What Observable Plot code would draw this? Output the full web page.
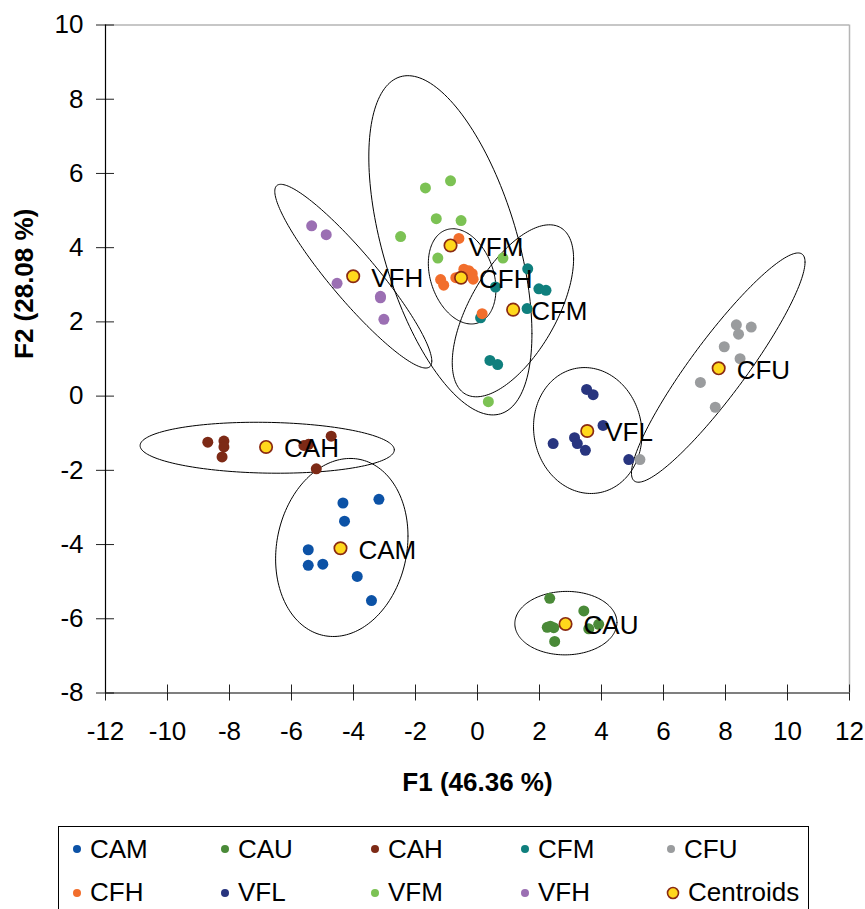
<!DOCTYPE html>
<html><head><meta charset="utf-8">
<script src="https://cdn.jsdelivr.net/npm/d3@7"></script>
<script src="https://cdn.jsdelivr.net/npm/@observablehq/plot@0.6"></script>
<style>
html,body{margin:0;padding:0;background:#fff;overflow:hidden;}
body{width:865px;height:909px;position:relative;font-family:"Liberation Sans",Arial,sans-serif;}
#chart{position:absolute;left:0;top:0;}
#legend{position:absolute;left:58px;top:826px;width:751px;height:120px;border:1.5px solid #000;box-sizing:border-box;background:#fff;}
.item{position:absolute;height:28px;display:flex;align-items:center;font-size:26px;color:#000;white-space:nowrap;}
.item svg{margin-right:8px;}
</style></head><body><div id="chart"></div><div id="legend"></div>
<script>
// ---- data ----
const groups = ["CAM","CAU","CAH","CFM","CFU","CFH","VFL","VFM","VFH"];
const colors = ["#0c52a6","#4a8a38","#7d2a16","#0f7f7d","#9a9c9e","#f26e2c","#28357f","#7cc254","#9b6fb3"];

const camX = [-4.34,-3.18,-4.29,-5.46,-5.46,-4.99,-3.88,-3.42];
const camY = [-2.88,-2.78,-3.37,-4.14,-4.56,-4.53,-4.86,-5.51];
const cauX = [2.33,3.43,2.25,2.46,2.35,3.91,3.59,2.49];
const cauY = [-5.45,-5.79,-6.23,-6.24,-6.20,-6.15,-6.27,-6.61];
const cahX = [-8.70,-8.18,-8.18,-8.24,-5.60,-5.45,-4.72,-5.20];
const cahY = [-1.24,-1.21,-1.37,-1.64,-1.33,-1.30,-1.08,-1.96];
const cfmX = [1.62,1.98,2.21,1.60,0.58,0.10,0.40,0.65];
const cfmY = [3.43,2.89,2.85,2.36,2.94,2.11,0.96,0.85];
const cfuX = [8.35,8.83,8.42,7.96,8.47,7.19,7.67,5.24];
const cfuY = [1.92,1.86,1.67,1.33,1.01,0.37,-0.30,-1.71];
const cfhX = [-0.60,-1.19,-1.09,-0.44,-0.28,-0.17,-0.14,-0.70,0.15];
const cfhY = [4.25,3.14,2.99,3.42,3.38,3.30,3.15,3.19,2.22];
const vflX = [3.52,3.73,4.05,3.13,3.22,2.44,3.48,4.88];
const vflY = [0.18,0.04,-0.79,-1.12,-1.28,-1.28,-1.46,-1.71];
const vfmX = [-1.68,-0.87,-1.33,-0.53,-2.48,-1.28,0.82,0.35];
const vfmY = [5.61,5.80,4.78,4.73,4.30,3.72,3.72,-0.15];
const vfhX = [-5.35,-4.88,-4.53,-3.13,-3.13,-3.02];
const vfhY = [4.59,4.35,3.04,2.69,2.65,2.07];

const centroidX = [-4.42,2.84,-6.82,1.15,7.78,-0.53,3.54,-0.87,-4.01];
const centroidY = [-4.10,-6.14,-1.37,2.33,0.75,3.19,-0.94,4.06,3.23];

const xTicks = [-12,-10,-8,-6,-4,-2,0,2,4,6,8,10,12];
const yTicks = [-8,-6,-4,-2,0,2,4,6,8,10];
const xTitle = "F1 (46.36 %)";
const yTitle = "F2 (28.08 %)";
const legendLabels = ["CAM","CAU","CAH","CFM","CFU","CFH","VFL","VFM","VFH","Centroids"];

// ---- build tables ----
const seriesX = [camX,cauX,cahX,cfmX,cfuX,cfhX,vflX,vfmX,vfhX];
const seriesY = [camY,cauY,cahY,cfmY,cfuY,cfhY,vflY,vfmY,vfhY];
const points = [];
groups.forEach((g,i)=>seriesX[i].forEach((x,j)=>points.push({g, x, y: seriesY[i][j]})));
const centroids = groups.map((g,i)=>({g, x: centroidX[i], y: centroidY[i]}));

// 95% confidence ellipses computed from each group's covariance
const k = Math.sqrt(5.991);
const ellipses = [];
groups.forEach((g,i)=>{
  const xs = seriesX[i], ys = seriesY[i], n = xs.length;
  const mx = d3.mean(xs), my = d3.mean(ys);
  let sxx=0, syy=0, sxy=0;
  for (let j=0;j<n;j++){const dx=xs[j]-mx, dy=ys[j]-my; sxx+=dx*dx; syy+=dy*dy; sxy+=dx*dy;}
  sxx/=(n-1); syy/=(n-1); sxy/=(n-1);
  const a = Math.sqrt(sxx), b = sxy/a, c = Math.sqrt(Math.max(syy - b*b, 0));
  for (let s=0;s<=180;s++){
    const t = s/180*2*Math.PI;
    ellipses.push({g, x: mx + k*a*Math.cos(t), y: my + k*(b*Math.cos(t) + c*Math.sin(t))});
  }
});

const xDomain = [xTicks[0], xTicks[xTicks.length-1]];
const yDomain = [yTicks[0], yTicks[yTicks.length-1]];
const fmt = d => String(d);

const chart = Plot.plot({
  width: 865, height: 800,
  marginLeft: 105, marginRight: 16, marginTop: 24.5, marginBottom: 107.5,
  style: {fontFamily: '"Liberation Sans", Arial, sans-serif', fontSize: "26px", background: "white", color: "#000", overflow: "visible"},
  x: {domain: xDomain, label: null},
  y: {domain: yDomain, label: null},
  color: {domain: groups, range: colors},
  marks: [
    Plot.ruleY([yDomain[1]], {stroke: "#b5b5b5", strokeWidth: 1.5}),
    Plot.ruleX([xDomain[1]], {stroke: "#b5b5b5", strokeWidth: 1.5}),
    Plot.axisX({ticks: xTicks, tickSize: 8, tickPadding: 21, tickFormat: fmt, label: null, fontSize: 26, stroke: "#222"}),
    Plot.axisX({ticks: xTicks, tickSize: -8, tickFormat: () => "", label: null, stroke: "#222"}),
    Plot.axisY({ticks: yTicks, tickSize: 9, tickPadding: 13, tickFormat: fmt, label: null, fontSize: 26, stroke: "#222"}),
    Plot.axisY({ticks: yTicks, tickSize: -9, tickFormat: () => "", label: null, stroke: "#222"}),
    Plot.ruleX([xDomain[0]], {stroke: "#000", strokeWidth: 1.2}),
    Plot.ruleY([yDomain[0]], {stroke: "#000", strokeWidth: 1.2}),
    Plot.line(ellipses, {x: "x", y: "y", z: "g", stroke: "#000", strokeWidth: 1}),
    Plot.dot(points, {x: "x", y: "y", fill: "g", r: 5.5}),
    Plot.dot(centroids, {x: "x", y: "y", fill: "#ffd81c", stroke: "#8a2a12", strokeWidth: 1.7, r: 6.2}),
    Plot.text(centroids, {x: "x", y: "y", text: "g", dx: 18, dy: 2, textAnchor: "start", fontSize: 26, fill: "#000"}),
    Plot.text([xTitle], {frameAnchor: "bottom", dy: 90, fontWeight: "bold", fontSize: 26, lineAnchor: "middle", fill: "#000"}),
    Plot.text([yTitle], {frameAnchor: "left", dx: -81, rotate: -90, fontWeight: "bold", fontSize: 26, lineAnchor: "middle", fill: "#000"})
  ]
});
document.getElementById("chart").appendChild(chart);

// ---- legend ----
const legend = document.getElementById("legend");
const colLeft = [13, 161, 311, 461, 607];
const rowTop = [8, 51.5];
legendLabels.forEach((lab, i) => {
  const row = Math.floor(i/5), col = i%5;
  const item = document.createElement("div");
  item.className = "item";
  item.style.left = colLeft[col] + "px";
  item.style.top = rowTop[row] + "px";
  const isC = lab === "Centroids";
  const ns = "http://www.w3.org/2000/svg";
  const s = document.createElementNS(ns, "svg");
  s.setAttribute("width", isC ? 14 : 10);
  s.setAttribute("height", 14);
  const c = document.createElementNS(ns, "circle");
  c.setAttribute("cx", isC ? 7 : 5); c.setAttribute("cy", 7);
  c.setAttribute("r", isC ? 5.5 : 4);
  if (isC) { c.setAttribute("fill", "#ffd81c"); c.setAttribute("stroke", "#8a2a12"); c.setAttribute("stroke-width", 1.6); }
  else c.setAttribute("fill", colors[groups.indexOf(lab)]);
  s.appendChild(c);
  item.appendChild(s);
  const t = document.createElement("span");
  t.textContent = lab;
  item.appendChild(t);
  legend.appendChild(item);
});
</script></body></html>
